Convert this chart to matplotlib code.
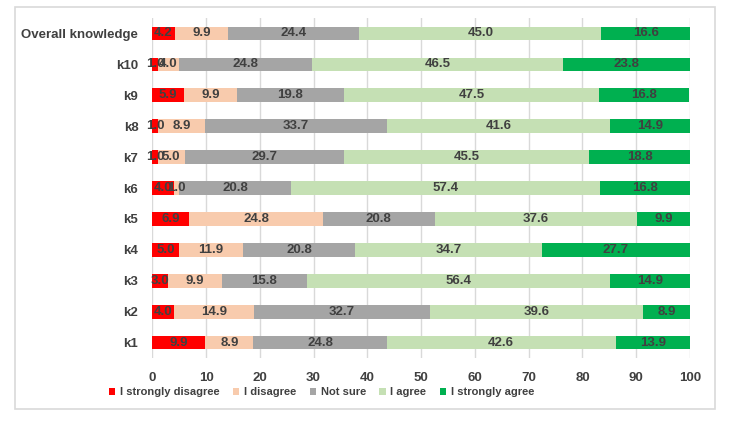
import matplotlib
matplotlib.use("Agg")
from matplotlib import pyplot as plt
from matplotlib.patches import Rectangle
import numpy as np

plt.rcParams['font.family'] = ['Liberation Sans', 'DejaVu Sans']

# data (top to bottom as in the picture)
items = ['Overall knowledge', 'k10', 'k9', 'k8', 'k7', 'k6', 'k5', 'k4', 'k3', 'k2', 'k1']
strongly_disagree = [4.2, 1.0, 5.9, 1.0, 1.0, 4.0, 6.9, 5.0, 3.0, 4.0, 9.9]
disagree = [9.9, 4.0, 9.9, 8.9, 5.0, 1.0, 24.8, 11.9, 9.9, 14.9, 8.9]
not_sure = [24.4, 24.8, 19.8, 33.7, 29.7, 20.8, 20.8, 20.8, 15.8, 32.7, 24.8]
agree = [45.0, 46.5, 47.5, 41.6, 45.5, 57.4, 37.6, 34.7, 56.4, 39.6, 42.6]
strongly_agree = [16.6, 23.8, 16.8, 14.9, 18.8, 16.8, 9.9, 27.7, 14.9, 8.9, 13.9]

series = [strongly_disagree, disagree, not_sure, agree, strongly_agree]
names = ['I strongly disagree', 'I disagree', 'Not sure', 'I agree', 'I strongly agree']
colors = ['#FF0000', '#F8CBAD', '#A5A5A5', '#C5E0B4', '#00B050']
txt = '#404040'

fig = plt.figure(figsize=(7.5, 4.22), dpi=100)
ax = fig.add_axes([0.203, 0.1505, 0.717, 0.808])

# outer frame
fig.patches.append(Rectangle((0.02, 0.031), 0.933, 0.952, transform=fig.transFigure,
                             fill=False, edgecolor='#D9D9D9', linewidth=1.2))

y = np.arange(len(items))
left = np.zeros(len(items))
for vals, name, c in zip(series, names, colors):
    vals = np.array(vals)
    bars = ax.barh(y, vals, left=left, height=0.42, color=c, label=name, zorder=3)
    for b, v in zip(bars, vals):
        ax.text(b.get_x() + b.get_width() / 2, b.get_y() + b.get_height() / 2,
                '%.1f' % v, ha='center', va='center', fontsize=9.5,
                fontweight='bold', color=txt, zorder=4)
    left += vals

ax.set_xlim(0, 100)
ax.set_ylim(len(items) - 0.5, -0.5)
ax.set_xticks(np.arange(0, 101, 10))
ax.set_yticks(y)
ax.set_yticklabels(items)
for lab in ax.get_xticklabels() + ax.get_yticklabels():
    lab.set_fontweight('bold')
    lab.set_color(txt)
    lab.set_fontsize(9.5)
ax.tick_params(length=0, pad=10)
ax.tick_params(axis='x', pad=10)
for s in ax.spines.values():
    s.set_visible(False)
ax.grid(axis='x', color='#D9D9D9', linewidth=1, zorder=0)
ax.set_axisbelow(True)

leg = fig.legend(loc='center left', bbox_to_anchor=(0.145, 0.071), ncol=5, frameon=False,
                 handlelength=0.6, handleheight=0.6, handletextpad=0.4, columnspacing=1.2,
                 borderaxespad=0, borderpad=0, prop={'weight': 'bold', 'size': 8})
for t in leg.get_texts():
    t.set_color(txt)

plt.savefig('out.png', dpi=100)
